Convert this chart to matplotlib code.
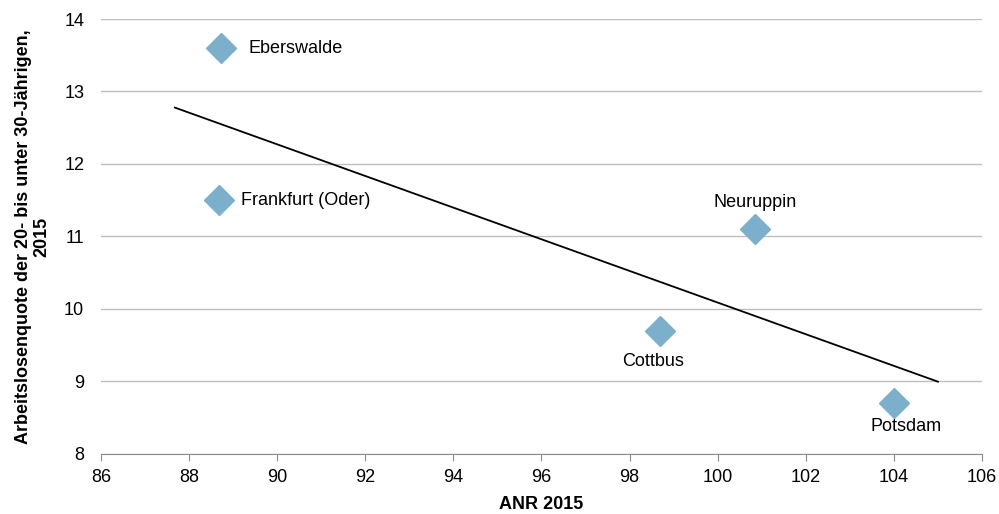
import matplotlib
matplotlib.use("Agg")
import matplotlib.pyplot as plt
import numpy as np

plt.rcParams['font.family'] = ['Liberation Sans', 'DejaVu Sans']

# Städte, ANR 2015 und Arbeitslosenquote der 20- bis unter 30-Jährigen
staedte = ["Eberswalde", "Frankfurt (Oder)", "Neuruppin", "Cottbus", "Potsdam"]
anr = [88.72, 88.68, 100.85, 98.69, 104.0]
quote = [13.6, 11.5, 11.1, 9.7, 8.7]

fig = plt.figure(figsize=(9.99, 5.14), dpi=100)
ax = fig.add_axes([0.101, 0.117, 0.882, 0.846])

ax.plot(anr, quote, linestyle="none", marker="D", markersize=15,
        color="#7BAFCB", zorder=3)

# lineare Trendlinie, je 1 Einheit vor- und rückwärts verlängert
m, b = np.polyfit(anr, quote, 1)
tx = np.array([min(anr) - 1, max(anr) + 1])
ax.plot(tx, m * tx + b, color="black", linewidth=1.3, zorder=2)

# Beschriftungen
lage = {"Eberswalde": ((20, 0), "left", "center"),
        "Frankfurt (Oder)": ((16, 0), "left", "center"),
        "Neuruppin": ((0, 13), "center", "bottom"),
        "Cottbus": ((-5, -16), "center", "top"),
        "Potsdam": ((8.5, -11), "center", "top")}
for name, x, y in zip(staedte, anr, quote):
    off, ha, va = lage[name]
    ax.annotate(name, (x, y), xytext=off, textcoords="offset points",
                ha=ha, va=va, fontsize=13)

ax.set_xlim(86, 106)
ax.set_ylim(8, 14)
ax.set_xticks(np.arange(86, 107, 2))
ax.set_yticks(np.arange(8, 15, 1))
ax.grid(axis="y", color="#BFBFBF", linewidth=1)
ax.set_axisbelow(True)

for s in ["top", "right", "left"]:
    ax.spines[s].set_visible(False)
ax.spines["bottom"].set_color("#8C8C8C")
ax.tick_params(axis="x", colors="#8C8C8C", labelcolor="black", length=5,
               labelsize=13, pad=6)
ax.tick_params(axis="y", length=0, labelsize=13, pad=12)

ax.set_xlabel("ANR 2015", fontsize=13, fontweight="bold", labelpad=7)
ax.set_ylabel("Arbeitslosenquote der 20- bis unter 30-Jährigen,\n2015",
              fontsize=13, fontweight="bold", labelpad=10, linespacing=1.12)

fig.savefig("out.png", dpi=100)
